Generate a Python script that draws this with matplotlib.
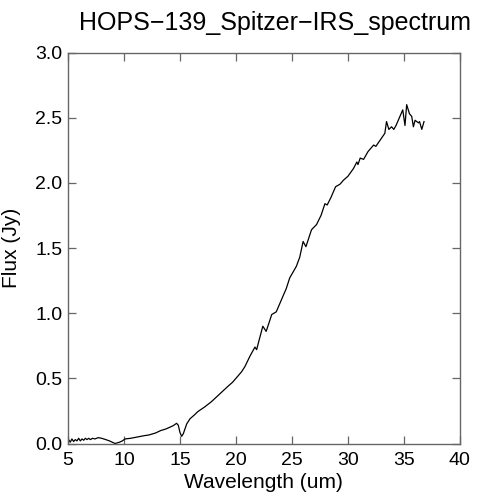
import numpy as np
import matplotlib
matplotlib.use('Agg')
import matplotlib.pyplot as plt

plt.rcParams['font.family'] = ['Liberation Sans', 'DejaVu Sans']

# spectrum (wavelength in um, flux in Jy)
wavelength = [5.05, 5.2, 5.35, 5.5, 5.65, 5.8, 5.95, 6.1, 6.25, 6.4, 6.55, 6.7,
              6.85, 7.0, 7.2, 7.4, 7.7, 8.0, 8.3, 8.7, 9.0, 9.2, 9.4, 9.6,
              9.85, 10.1, 10.6, 11.2, 11.8, 12.2, 12.8, 13.3, 13.7, 14.1,
              14.4, 14.7, 14.85, 15.0, 15.15, 15.3, 15.6, 15.9, 16.3, 16.6,
              17.2, 17.8, 18.3, 18.8, 19.3, 19.7, 20.1, 20.5, 20.8, 21.25,
              21.7, 21.85, 22.0, 22.4, 22.7, 23.2, 23.6, 24.1, 24.5, 24.8,
              25.4, 25.7, 26.0, 26.25, 26.75, 27.2, 27.6, 27.95, 28.15, 28.5,
              28.9, 29.3, 29.6, 30.0, 30.5, 30.8, 30.9, 31.1, 31.4, 31.8, 32.3,
              32.5, 32.9, 33.3, 33.45, 33.66, 33.9, 34.1, 34.3, 34.5, 34.9,
              35.1, 35.25, 35.5, 35.7, 35.85, 36.0, 36.3, 36.4, 36.6, 36.8]
flux = [0.03, 0.01, 0.035, 0.015, 0.03, 0.02, 0.04, 0.02, 0.035, 0.025, 0.04,
        0.03, 0.04, 0.03, 0.04, 0.035, 0.045, 0.04, 0.032, 0.02, 0.008, 0.0,
        0.005, 0.01, 0.02, 0.035, 0.04, 0.05, 0.06, 0.065, 0.08, 0.1, 0.11,
        0.125, 0.137, 0.155, 0.14, 0.085, 0.055, 0.075, 0.15, 0.19, 0.22,
        0.245, 0.28, 0.32, 0.36, 0.4, 0.44, 0.47, 0.51, 0.55, 0.59, 0.67,
        0.74, 0.72, 0.77, 0.9, 0.86, 0.99, 1.01, 1.11, 1.19, 1.27, 1.36,
        1.43, 1.55, 1.51, 1.64, 1.68, 1.75, 1.84, 1.83, 1.89, 1.97, 1.99,
        2.02, 2.05, 2.11, 2.16, 2.14, 2.19, 2.18, 2.24, 2.29, 2.28, 2.33,
        2.38, 2.47, 2.41, 2.43, 2.41, 2.44, 2.48, 2.56, 2.44, 2.60, 2.53,
        2.51, 2.43, 2.48, 2.46, 2.47, 2.41, 2.47]

fig = plt.figure(figsize=(4.79, 5.0), dpi=100)
ax = fig.add_axes([0.142, 0.113, 0.818, 0.782])

ax.plot(wavelength, flux, color='black', linewidth=0.9)

ax.set_xlim(5, 40)
ax.set_ylim(0, 3)
ax.set_xticks([5, 10, 15, 20, 25, 30, 35, 40])
ax.set_yticks([0.0, 0.5, 1.0, 1.5, 2.0, 2.5, 3.0])
ax.set_yticklabels(['0.0', '0.5', '1.0', '1.5', '2.0', '2.5', '3.0'])

for s in ax.spines.values():
    s.set_color('#666666')
    s.set_linewidth(1.0)
ax.tick_params(direction='in', length=6, width=0.9, color='#666666',
               top=True, right=True, labelsize=14)
ax.tick_params(axis='x', pad=6)
ax.tick_params(axis='y', pad=4)

ax.set_xlabel('Wavelength (um)', fontsize=15, labelpad=3)
ax.set_ylabel('Flux (Jy)', fontsize=15, labelpad=10)
ax.set_title('HOPS\u2212139_Spitzer\u2212IRS_spectrum', fontsize=18, pad=16,
             x=0.528)

plt.savefig('out.png', dpi=100)
